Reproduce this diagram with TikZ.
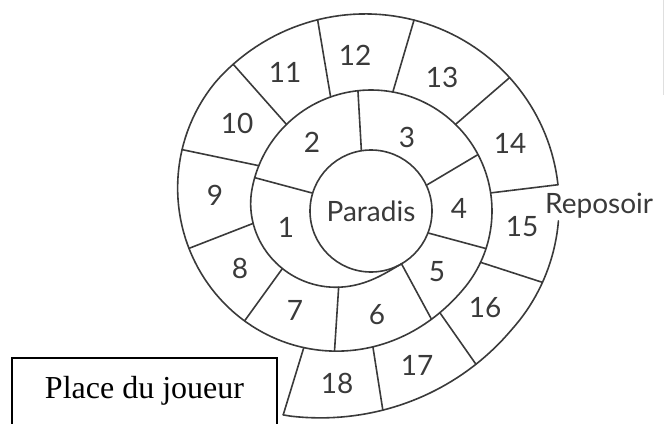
\documentclass[tikz,border=0pt]{standalone}
\usepackage{fontspec}
\setmainfont{Liberation Serif}
\newfontfamily\boardfont{Lato}
\usepackage{xcolor}
\definecolor{ink}{HTML}{3A3A3A}
\tikzset{
	wall/.style={draw=ink,line width=1.6pt,line join=round,line cap=round},
	cell/.style={text=ink,inner sep=0pt,font=\boardfont\fontsize{28}{30}\selectfont},
	centre/.style={circle,draw=ink,line width=1.6pt,minimum size=122pt,inner sep=0pt,
		text=ink,font=\boardfont\fontsize{28}{30}\selectfont},
	placebox/.style={draw=black,line width=2pt,anchor=north,minimum width=265pt,
		text height=24pt,text depth=30pt,inner ysep=16pt,font=\fontsize{32}{36}\selectfont},
	declare function={
		cl(\u)=min(1,max(0,\u));
		sm(\u)=3*cl(\u)*cl(\u)-2*cl(\u)*cl(\u)*cl(\u);
		spr(\t)=61+60*sm((\t-60)/130)+81*sm((\t-400)/180)-18*cl((\t-580)/180)
			+38*cl((\t-760)/73)*cl((\t-760)/73);
		spx(\t)=371+spr(\t)*cos(\t);
		spy(\t)=211+spr(\t)*sin(\t);
	},
}

\begin{document}
\begin{tikzpicture}[x=1pt,y=-1pt]
	\path[use as bounding box,clip] (0,0) rectangle (666,423);

	% Paradis
	\node[centre] (paradis) at (371,211) {Paradis};

	% first turn
	\coordinate (d56i) at ({spx(60)},{spy(60)});
	\coordinate (d67i) at ({spx(113)},{spy(113)});
	\coordinate (d78i) at ({spx(147)},{spy(147)});
	\coordinate (d89i) at ({spx(174)},{spy(174)});
	\coordinate (d12o) at ({spx(196)},{spy(196)});
	\coordinate (d910i) at ({spx(202)},{spy(202)});
	\coordinate (d1011i) at ({spx(225.7)},{spy(225.7)});
	\coordinate (d1112i) at ({spx(250.5)},{spy(250.5)});
	\coordinate (d23o) at ({spx(263.8)},{spy(263.8)});
	\coordinate (d1213i) at ({spx(280.4)},{spy(280.4)});
	\coordinate (d1314i) at ({spx(314.3)},{spy(314.3)});
	\coordinate (d34o) at ({spx(332.2)},{spy(332.2)});
	\coordinate (d1415i) at ({spx(351.4)},{spy(351.4)});
	\coordinate (d45o) at ({spx(378.1)},{spy(378.1)});
	\coordinate (d1516i) at ({spx(385.1)},{spy(385.1)});
	\coordinate (d1617i) at ({spx(415.9)},{spy(415.9)});
	\coordinate (d56o) at ({spx(420.8)},{spy(420.8)});
	\coordinate (d1718i) at ({spx(449.2)},{spy(449.2)});
	\coordinate (d67o) at ({spx(464.6)},{spy(464.6)});
	\coordinate (end18i) at ({spx(476.2)},{spy(476.2)});
	\coordinate (d78o) at ({spx(499)},{spy(499)});

	% second turn
	\coordinate (d89o) at ({spx(528.4)},{spy(528.4)});
	\coordinate (d910o) at ({spx(558)},{spy(558)});
	\coordinate (d1011o) at ({spx(586.8)},{spy(586.8)});
	\coordinate (d1112o) at ({spx(614.4)},{spy(614.4)});
	\coordinate (d1213o) at ({spx(642.7)},{spy(642.7)});
	\coordinate (d1314o) at ({spx(676.1)},{spy(676.1)});
	\coordinate (d1415o) at ({spx(712)},{spy(712)});
	\coordinate (d1516o) at ({spx(742.6)},{spy(742.6)});
	\coordinate (d1617o) at ({spx(775.6)},{spy(775.6)});
	\coordinate (d1718o) at ({spx(806.6)},{spy(806.6)});
	\coordinate (end18o) at ({spx(833.3)},{spy(833.3)});

	% Spiral (open at the Reposoir)
	\draw[wall] plot[domain=60:712,samples=330,variable=\t] ({spx(\t)},{spy(\t)});
	\draw[wall] plot[domain=723:833.3,samples=60,variable=\t] ({spx(\t)},{spy(\t)});

	% Dividers
	\draw[wall] (d12o) -- (paradis.163);
	\draw[wall] (d23o) -- (paradis.99);
	\draw[wall] (d34o) -- (paradis.25);
	\draw[wall] (d45o) -- (paradis.-21);
	\draw[wall] (d56o) -- (d56i);
	\draw[wall] (d67o) -- (d67i);
	\draw[wall] (d78o) -- (d78i);
	\draw[wall] (d89o) -- (d89i);
	\draw[wall] (d910o) -- (d910i);
	\draw[wall] (d1011o) -- (d1011i);
	\draw[wall] (d1112o) -- (d1112i);
	\draw[wall] (d1213o) -- (d1213i);
	\draw[wall] (d1314o) -- (d1314i);
	\draw[wall] (d1415o) -- (d1415i);
	\draw[wall] (d1516o) -- (d1516i);
	\draw[wall] (d1617o) -- (d1617i);
	\draw[wall] (d1718o) -- (d1718i);
	\draw[wall] (end18o) -- (end18i);

	% Numbers
	\node[cell] (n1) at (286,227) {1};
	\node[cell] (n2) at (312,142) {2};
	\node[cell] (n3) at (407,137) {3};
	\node[cell] (n4) at (459,208) {4};
	\node[cell] (n5) at (437,272) {5};
	\node[cell] (n6) at (377,315) {6};
	\node[cell] (n7) at (295,310) {7};
	\node[cell] (n8) at (240,268) {8};
	\node[cell] (n9) at (215,195) {9};
	\node[cell] (n10) at (237,123) {10};
	\node[cell] (n11) at (285,72) {11};
	\node[cell] (n12) at (355,55) {12};
	\node[cell] (n13) at (442,77) {13};
	\node[cell] (n14) at (510,143) {14};
	\node[cell] (n15) at (522,227) {15};
	\node[cell] (n16) at (485,308) {16};
	\node[cell] (n17) at (417,365) {17};
	\node[cell] (n18) at (337,383) {18};
	\node[cell,anchor=base west] (reposoir) at (545,213) {Reposoir};

	% Place du joueur
	\node[placebox] (place) at (144.5,357) {Place du joueur};

	\draw[gray!25,line width=1pt] (663,0) -- (663,95);
\end{tikzpicture}
\end{document}
